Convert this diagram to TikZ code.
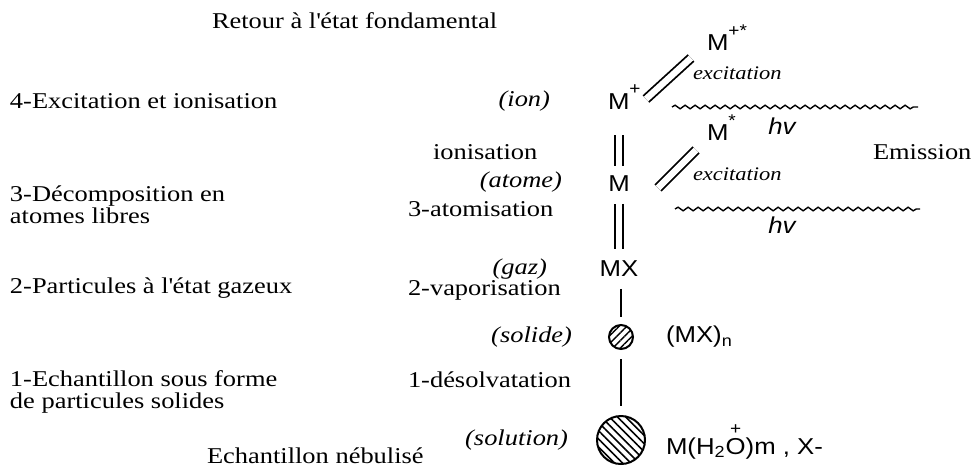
\documentclass[tikz,border=0pt]{standalone}
\usepackage{fontspec}
\setmainfont{Liberation Serif}[FakeStretch=1.17]
\newfontfamily\chemfont{Liberation Sans}[FakeStretch=1.12]
\usepackage{tikz}
\usetikzlibrary{positioning,calc,decorations.pathmorphing,patterns.meta}
\newcommand{\chargeover}[1]{\leavevmode\setbox0=\hbox{#1}\rlap{\hbox to\wd0{\hss\raisebox{1.2\ht0}{\fontsize{8.5}{9}\selectfont +}\hss}}\box0}
\newcommand{\chargeup}[1]{\raisebox{0.62em}{\fontsize{8.5}{9}\selectfont #1}}

\begin{document}
\begin{tikzpicture}[
    x=0.5pt, y=-0.5pt,
    every node/.style={inner sep=0pt, outer sep=0pt},
    stage/.style={font=\fontsize{11.3}{13.6}\selectfont, anchor=west, align=left},
    phase/.style={font=\fontsize{11.3}{13.6}\selectfont\itshape, anchor=east},
    chem/.style={font=\fontsize{11.5}{13.8}\selectfont\chemfont},
    exclabel/.style={font=\fontsize{9.6}{11}\selectfont\itshape, anchor=west},
    freq/.style={font=\fontsize{11.5}{13}\selectfont\chemfont\itshape},
    dbar/.style={double, double distance=3.2pt, line width=0.9pt},
    sbar/.style={line width=1pt},
    photon/.style={decorate, decoration={snake, amplitude=0.9pt, segment length=5pt}, line width=0.7pt},
    drop/.style={circle, draw, line width=1pt}
]
\useasboundingbox (0,0) rectangle (973,472);

% Left column: stages
\node[stage] (retour) at (212,21) {Retour à l\textquotesingle état fondamental};
\node[stage] (st4) at (10,101) {4-Excitation et ionisation};
\node[stage] (st3) at (10,205) {3-Décomposition en\\[-2.4pt]atomes libres};
\node[stage] (st2) at (10,288) {2-Particules à l\textquotesingle état gazeux};
\node[stage] (st1) at (10,392) {1-Echantillon sous forme\\[-2.4pt]de particules solides};
\node[stage] (nebul) at (207,456) {Echantillon nébulisé};

% Middle column: processes and phases
\node[stage] (ionis) at (433,152) {ionisation};
\node[stage] (atomis) at (408,209) {3-atomisation};
\node[stage] (vapor) at (408,290) {2-vaporisation};
\node[stage] (desolv) at (408,380) {1-désolvatation};
\node[phase] (ion) at (550,101) {(ion)};
\node[phase] (atome) at (562,182) {(atome)};
\node[phase] (gaz) at (547,269) {(gaz)};
\node[phase] (solide) at (572,337) {(solide)};
\node[phase] (solution) at (568,440) {(solution)};

% Species
\node[chem, anchor=west] (mionexc) at (707,38) {M\chargeup{+*}};
\node[chem, anchor=west] (mion) at (608,97) {M\chargeup{+}};
\node[chem] (atom) at (619,184) {M};
\node[chem, anchor=west] (mexc) at (707,128) {M\chargeup{*}};
\node[chem] (mx) at (619,269) {MX};
\node[drop, minimum size=12pt, pattern={Lines[angle=45, distance=2.7pt, line width=0.7pt]}] (solid) at (621,337) {};
\node[drop, minimum size=24pt, pattern={Lines[angle=-45, distance=2.9pt, line width=0.8pt]}] (spray) at (621,440) {};
\node[chem, anchor=west] (mxn) at (666,337) {(MX)\textsubscript{n}};
\node[chem, anchor=west] (solv) at (666,442) {M(H\textsubscript{2}\chargeover{O})m , X-};

% Emission side
\node[exclabel] (excup) at (693,73) {excitation};
\node[exclabel] (exclow) at (693,174) {excitation};
\node[freq] (hvup) at (782,126) {hv};
\node[freq] (hvlow) at (782,225) {hv};
\node[stage] (emis) at (873,152) {Emission};
\coordinate (wup0) at (672,107);
\coordinate (wup1) at (918,107);
\coordinate (wlow0) at (675,209);
\coordinate (wlow1) at (920,209);
\coordinate (exup0) at (646,99);
\coordinate (exup1) at (691,58);
\coordinate (exlow0) at (658,188);
\coordinate (exlow1) at (696,150);

% Connectors
\draw[dbar, shorten <=13pt, shorten >=5pt] (mion.south -| atom.center) -- (atom.north);
\draw[dbar, shorten <=6pt, shorten >=6pt] (atom.south) -- (mx.north -| atom.center);
\draw[sbar, shorten <=6pt, shorten >=4pt] (mx.south -| solid.center) -- (solid.north);
\draw[sbar, shorten <=5pt, shorten >=5pt] (solid.south) -- (spray.north);
\draw[dbar] (exup0) -- (exup1);
\draw[dbar] (exlow0) -- (exlow1);
\draw[photon] (wup0) -- (wup1);
\draw[photon] (wlow0) -- (wlow1);

\end{tikzpicture}
\end{document}
